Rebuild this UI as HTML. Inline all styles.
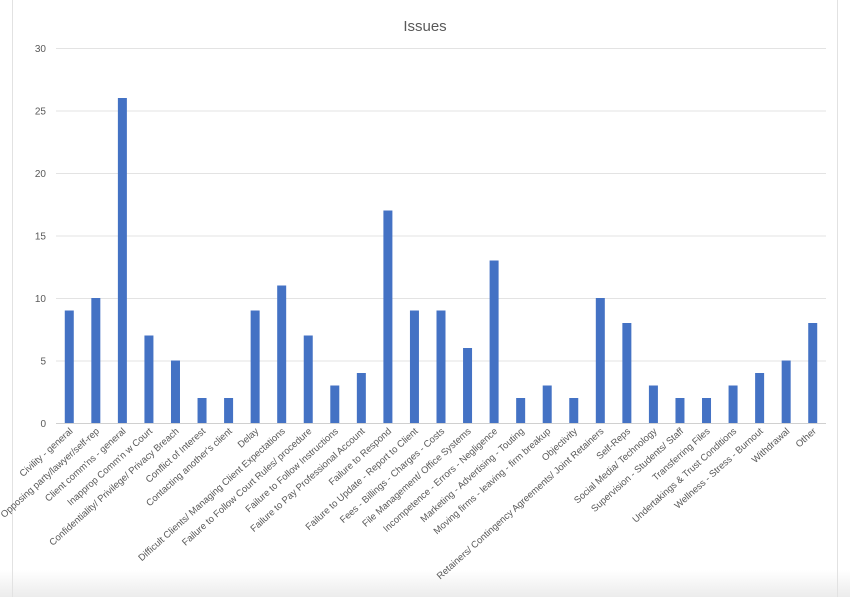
<!DOCTYPE html>
<html><head><meta charset="utf-8">
<style>
html,body{margin:0;padding:0;background:#fff;}
body{width:850px;height:597px;overflow:hidden;font-family:"Liberation Sans",sans-serif;}
</style></head>
<body>
<svg id="chart" width="850" height="597" xmlns="http://www.w3.org/2000/svg">
<defs><linearGradient id="bot" x1="0" y1="0" x2="0" y2="1"><stop offset="0" stop-color="#fff"/><stop offset="1" stop-color="#ececec"/></linearGradient></defs>
<rect x="0" y="0" width="850" height="597" fill="#fff"/>
<rect x="0" y="570" width="850" height="27" fill="url(#bot)"/>
<line x1="12.5" y1="0" x2="12.5" y2="597" stroke="#e2e2e2"/>
<line x1="837.5" y1="0" x2="837.5" y2="597" stroke="#e2e2e2"/>
<text x="425" y="31" text-anchor="middle" font-size="15" fill="#595959">Issues</text>
<g id="grid"></g><g id="bars"></g><g id="labels"></g>
</svg>
<script>
const categories=["Civility - general","Opposing party/lawyer/self-rep","Client comm'ns - general","Inapprop Comm'n w Court","Confidentiality/ Privilege/ Privacy Breach","Conflict of Interest","Contacting another's client","Delay","Difficult Clients/ Managing Client Expectations","Failure to Follow Court Rules/ procedure","Failure to Follow Instructions","Failure to Pay Professional Account","Failure to Respond","Failure to Update - Report to Client","Fees - Billings - Charges - Costs","File Management/ Office Systems","Incompetence - Errors - Negligence","Marketing - Advertising - Touting","Moving firms - leaving - firm breakup","Objectivity","Retainers/ Contingency Agreements/ Joint Retainers","Self-Reps","Social Media/ Technology","Supervision - Students/ Staff","Transferring Files","Undertakings & Trust Conditions","Wellness - Stress - Burnout","Withdrawal","Other"];
const values=[9,10,26,7,5,2,2,9,11,7,3,4,17,9,9,6,13,2,3,2,10,8,3,2,2,3,4,5,8];
const yTicks=[0,5,10,15,20,25,30];
const NS="http://www.w3.org/2000/svg";
const L=56,R=826,T=48,B=423,YMAX=30;
const y=v=>B-(v/YMAX)*(B-T);
const band=(R-L)/categories.length;
const x=i=>L+band*(i+0.5);
const grid=document.getElementById('grid'),bars=document.getElementById('bars'),labels=document.getElementById('labels');
function mk(tag,attrs){const e=document.createElementNS(NS,tag);for(const k in attrs)e.setAttribute(k,attrs[k]);return e;}
yTicks.forEach(t=>{
  const ln=mk('line',{x1:L,x2:R,y1:y(t)+0.5,y2:y(t)+0.5,stroke:t===0?'#d0d0d0':'#e3e3e3'});
  
  
  grid.appendChild(ln);
  const tx=mk('text',{x:46,y:y(t)+4,'text-anchor':'end','font-size':'10',fill:'#595959'});
  tx.textContent=t;
  
  
  grid.appendChild(tx);
});
values.forEach((v,i)=>{
  const w=9;
  const r=mk('rect',{x:x(i)-w/2,y:y(v),width:w,height:B-y(v),fill:'#4472c4'});
  
  
  bars.appendChild(r);
  const tx=mk('text',{'text-anchor':'end','font-size':'9.5',fill:'#595959',transform:'translate('+(x(i)+4)+',432) rotate(-42)'});
  tx.textContent=categories[i];
  
  
  labels.appendChild(tx);
});
</script>
</body></html>
